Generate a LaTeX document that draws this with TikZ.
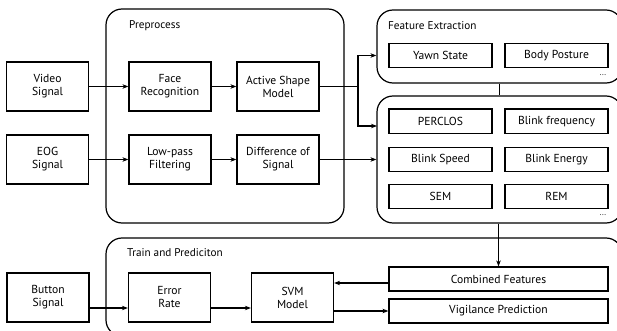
\documentclass[tikz,border=0pt]{standalone}
\usepackage{fontspec}
\setmainfont{PT Sans}
\usetikzlibrary{arrows.meta}
\begin{document}
\begin{tikzpicture}[x=1pt,y=-1pt,
  every node/.style={font=\fontsize{11.6}{13}\selectfont},
  box/.style={draw,line width=1.2pt,inner sep=0pt,align=center},
  bigbox/.style={box,minimum width=82pt,minimum height=49pt},
  featbox/.style={box,minimum width=103pt,minimum height=24.5pt},
  wide/.style={box,minimum width=219pt,minimum height=24pt},
  container/.style={draw,line width=1.2pt,rounded corners=16pt,inner sep=0pt},
  lbl/.style={anchor=west,inner sep=0pt,font=\fontsize{11.2}{12}\selectfont},
  dots/.style={inner sep=0pt,font=\fontsize{8}{9}\selectfont},
  arr/.style={line width=1.2pt,-{Stealth[length=6pt,width=4.5pt]}},
  ln/.style={line width=1.2pt}]
\useasboundingbox (0,0) rectangle (617,331);
% containers
\node[container,minimum width=238pt,minimum height=214pt] (pre) at (225,116) {};
\node[container,minimum width=245pt,minimum height=73pt] (fe) at (499.5,46.5) {};
\node[container,minimum width=245pt,minimum height=127pt] (feat) at (499.5,159.5) {};
\node[container,minimum width=516pt,minimum height=98pt] (tp) at (364,287) {};
\node[lbl] (prelbl) at (129,26) {Preprocess};
\node[lbl] (felbl) at (388,26) {Feature Extraction};
\node[lbl] (tplbl) at (127,253) {Train and Prediciton};
% left boxes
\node[bigbox] (video) at (47.5,86.5) {Video\\Signal};
\node[bigbox] (eog) at (47.5,159.5) {EOG\\Signal};
\node[bigbox] (face) at (170,86.5) {Face\\Recognition};
\node[bigbox] (asm) at (278,86.5) {Active Shape\\Model};
\node[bigbox] (lp) at (170,159.5) {Low-pass\\Filtering};
\node[bigbox] (diff) at (278,159.5) {Difference of\\Signal};
% feature boxes
\node[featbox] (yawn) at (440.5,55.5) {Yawn State};
\node[featbox] (body) at (556.5,55.5) {Body Posture};
\node[dots] (dots1) at (603,75) {...};
\node[featbox] (perclos) at (440.5,121.3) {PERCLOS};
\node[featbox] (bfreq) at (556.5,121.3) {Blink frequency};
\node[featbox] (bspeed) at (440.5,159.5) {Blink Speed};
\node[featbox] (benergy) at (556.5,159.5) {Blink Energy};
\node[featbox] (sem) at (440.5,196.6) {SEM};
\node[featbox] (rem) at (556.5,196.6) {REM};
\node[dots] (dots2) at (603,215) {...};
% train boxes
\node[bigbox] (button) at (48,297.5) {Button\\Signal};
\node[bigbox] (err) at (169.5,297.5) {Error\\Rate};
\node[bigbox] (svm) at (292.5,297.5) {SVM\\Model};
\node[wide] (comb) at (498.5,279) {Combined Features};
\node[wide] (vig) at (498.5,311) {Vigilance Prediction};
% coordinates
\coordinate (split) at (358,86.5);
\coordinate (in2) at (377,126);
\coordinate (ba) at (89,308);
\coordinate (ea) at (211,308);
\coordinate (sa) at (333,311);
\coordinate (ca) at (389,283);
% connectors
\draw[arr] (video) -- (face);
\draw[arr] (face) -- (asm);
\draw[arr] (eog) -- (lp);
\draw[arr] (lp) -- (diff);
\draw[ln] (asm.east) -- (split);
\draw[arr] (split) |- (fe.west |- yawn);
\draw[arr] (split) |- (in2);
\draw[arr] (diff.east) -- (feat.west |- diff);
\draw[ln] (fe.south -| perclos.east) ++(7,0) coordinate (v1) -- (v1 |- feat.north);
\draw[arr] (feat.south -| comb.north) -- (comb.north);
\draw[arr] (ba) -- (ba -| err.west);
\draw[arr] (ea) -- (ea -| svm.west);
\draw[arr] (ca) -- (ca -| svm.east);
\draw[arr] (sa) -- (sa -| vig.west);
\end{tikzpicture}
\end{document}
